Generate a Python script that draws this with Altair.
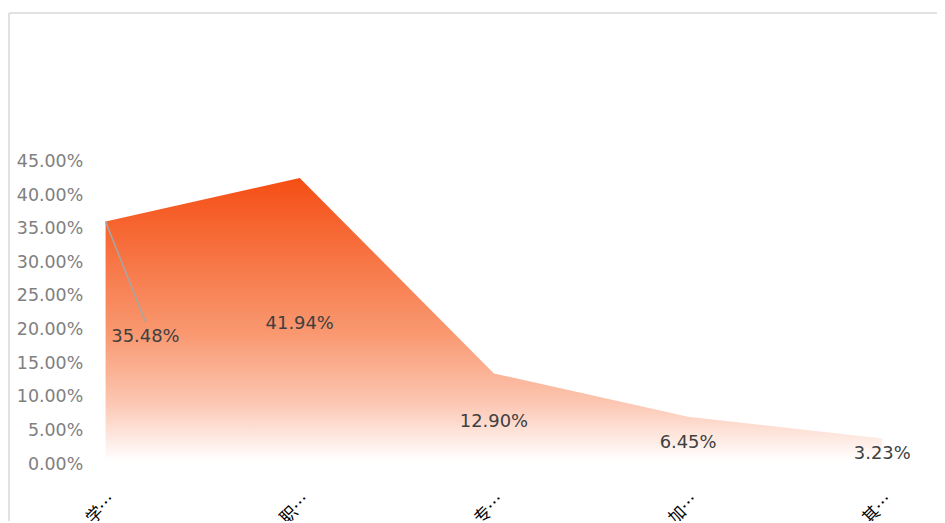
import altair as alt
import pandas as pd

categories = ["学…", "职…", "专…", "加…", "其…"]
values = [0.3548, 0.4194, 0.1290, 0.0645, 0.0323]
y_ticks = [0, 0.05, 0.10, 0.15, 0.20, 0.25, 0.30, 0.35, 0.40, 0.45]

df = pd.DataFrame({"cat": categories, "value": values})

NUM_FONT = "DejaVu Sans"

x_scale = alt.Scale(type="point", padding=0)
y_scale = alt.Scale(domain=[0, 0.45], nice=False, zero=True)

x_axis = alt.Axis(
    title=None, labelAngle=-45, labelAlign="right", labelBaseline="middle",
    labelPadding=37, labelOffset=7, domain=False, ticks=False,
    labelFont="Noto Sans CJK SC", labelFontSize=17, labelColor="#000000",
)
y_axis = alt.Axis(
    title=None, values=y_ticks, format=".2%", grid=False, domain=False,
    ticks=False, labelPadding=23, labelOffset=4, labelFont=NUM_FONT,
    labelFontSize=17.5, labelColor="#808080",
)

x_enc = alt.X("cat:N", sort=categories, scale=x_scale, axis=x_axis)
y_enc = alt.Y("value:Q", scale=y_scale, axis=y_axis)
y_half = alt.Y("half:Q", scale=y_scale, axis=y_axis)

base = alt.Chart(df)

area = base.mark_area(
    color=alt.Gradient(
        gradient="linear",
        stops=[
            alt.GradientStop(color="#F54E14", offset=0),
            alt.GradientStop(color="#F99870", offset=0.55),
            alt.GradientStop(color="#FCC7B3", offset=0.8),
            alt.GradientStop(color="#FFFFFF", offset=1),
        ],
        x1=0, x2=0, y1=0, y2=1,
    )
).encode(x=x_enc, y=y_enc)

labels_first = base.transform_filter(
    alt.datum.cat == categories[0]
).transform_calculate(half="datum.value/2").mark_text(
    font=NUM_FONT, fontSize=18, color="#404040", dx=40, dy=-4
).encode(
    x=x_enc, y=y_half,
    text=alt.Text("value:Q", format=".2%"),
)

labels_rest = base.transform_filter(
    alt.datum.cat != categories[0]
).transform_calculate(half="datum.value/2").mark_text(
    font=NUM_FONT, fontSize=18, color="#404040", dy=5
).encode(
    x=x_enc, y=y_half,
    text=alt.Text("value:Q", format=".2%"),
)

leader = base.transform_filter(
    alt.datum.cat == categories[0]
).mark_rule(color="#A6A6A6", strokeWidth=1.5).encode(
    x=x_enc, y=y_enc,
    x2=alt.value(40), y2=alt.value(165),
)

frame_df = pd.DataFrame({"a": [0]})
frame_top = alt.Chart(frame_df).mark_rule(color="#D9D9D9", strokeWidth=1.5).encode(
    x=alt.value(-97), x2=alt.value(900), y=alt.value(-145)
)
frame_left = alt.Chart(frame_df).mark_rule(color="#D9D9D9", strokeWidth=1.5).encode(
    x=alt.value(-97), y=alt.value(-145), y2=alt.value(400)
)

chart = alt.layer(
    area, leader, labels_first, labels_rest, frame_top, frame_left
).properties(
    width=780,
    height=304,
    autosize=alt.AutoSizeParams(type="none"),
    padding={"left": 98, "top": 149, "right": 55, "bottom": 60},
).configure_view(stroke=None)

chart.save("out.html", embed_options={"renderer": "svg", "actions": False})
